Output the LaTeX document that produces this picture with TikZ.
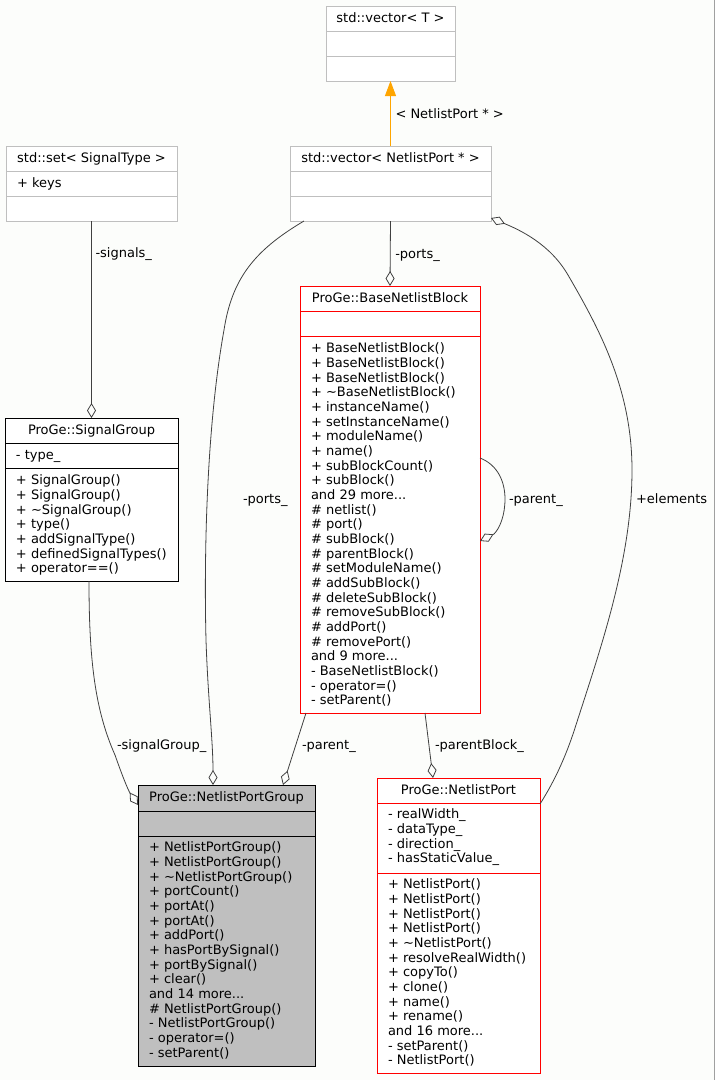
\documentclass[tikz,border=0pt]{standalone}
\usepackage{fontspec}
\setmainfont{DejaVu Sans}
\usepackage{tikz}
\usetikzlibrary{arrows.meta,positioning}

\definecolor{edgegray}{RGB}{64,64,64}
\definecolor{lightframe}{RGB}{191,191,191}
\definecolor{redframe}{RGB}{255,0,0}
\definecolor{curfill}{RGB}{191,191,191}
\definecolor{inhorange}{RGB}{255,165,0}
\definecolor{paper}{RGB}{252,253,251}
\definecolor{edgeline}{RGB}{160,160,160}

\newcommand{\andmore}[1]{and #1 more...}
\newcommand{\umlclass}[9]{%
  \node[box, draw=#8, fill=#9, minimum width=#4pt, minimum height=#5pt] (#1) at (#2,#3) {};
  \draw[draw=#8, line width=0.9pt] (#2,#6) -- ++(#4,0) (#2,#7) -- ++(#4,0);
}
\newcommand{\members}[4]{%
  \foreach \m [count=\i] in {#4}
    \node[member] (#1-\i) at (#2,{#3+14.67*(\i-1)}) {\m};
}

\begin{document}
\begin{tikzpicture}[x=1pt, y=-1pt,
    every node/.style={inner sep=0pt, outer sep=0pt, font=\fontsize{13}{15}\selectfont},
    box/.style={anchor=north west, line width=0.9pt},
    title/.style={anchor=base},
    member/.style={anchor=base west},
    lbl/.style={anchor=west, text height=9.5pt, text depth=0.5pt},
    aggr/.style={draw=edgegray, line width=0.8pt, -{Diamond[open, length=15pt, width=9pt]}},
    inherit/.style={draw=inhorange, line width=0.9pt, -{Triangle[length=15pt, width=11pt]}}
  ]
  \fill[paper] (0,0) rectangle (715,1080);
  \useasboundingbox (0,0) rectangle (715,1080);
  \draw[edgeline, line width=1pt] (714.5,0) -- (714.5,1080);

  % classes
  \umlclass{vt}{326}{6}{129}{75}{31}{56}{lightframe}{white}
  \node[title] (vt-title) at (390.5,22) {std::vector< T >};

  \umlclass{vnp}{290}{146}{201}{75}{171}{196}{lightframe}{white}
  \node[title] (vnp-title) at (390.5,162) {std::vector< NetlistPort * >};

  \umlclass{sst}{6}{146}{171}{75}{171}{196}{lightframe}{white}
  \node[title] (sst-title) at (91.5,162) {std::set< SignalType >};
  \members{sst-a}{17}{187.5}{+ keys}

  \umlclass{bnb}{300}{286}{180}{427}{311}{336}{redframe}{white}
  \node[title] (bnb-title) at (390,302) {ProGe::BaseNetlistBlock};
  \members{bnb-m}{311}{352.7}{+ BaseNetlistBlock(), + BaseNetlistBlock(), + BaseNetlistBlock(),
    + \textasciitilde{}BaseNetlistBlock(), + instanceName(), + setInstanceName(), + moduleName(),
    + name(), + subBlockCount(), + subBlock(), \andmore{29}, \# netlist(), \# port(),
    \# subBlock(), \# parentBlock(), \# setModuleName(), \# addSubBlock(), \# deleteSubBlock(),
    \# removeSubBlock(), \# addPort(), \# removePort(), \andmore{9}, - BaseNetlistBlock(),
    - operator=(), - setParent()}

  \umlclass{sg}{5}{418}{173}{163}{443}{468}{black}{white}
  \node[title] (sg-title) at (91.5,434.5) {ProGe::SignalGroup};
  \members{sg-a}{16}{459.7}{- type\_}
  \members{sg-m}{16}{484.7}{+ SignalGroup(), + SignalGroup(), + \textasciitilde{}SignalGroup(),
    + type(), + addSignalType(), + definedSignalTypes(), + operator==()}

  \umlclass{npg}{138}{785}{177}{281}{811}{836}{black}{curfill}
  \node[title] (npg-title) at (226.5,801.5) {ProGe::NetlistPortGroup};
  \members{npg-m}{149}{851.7}{+ NetlistPortGroup(), + NetlistPortGroup(),
    + \textasciitilde{}NetlistPortGroup(), + portCount(), + portAt(), + portAt(), + addPort(),
    + hasPortBySignal(), + portBySignal(), + clear(), \andmore{14}, \# NetlistPortGroup(),
    - NetlistPortGroup(), - operator=(), - setParent()}

  \umlclass{np}{377}{778}{163}{295}{803}{873}{redframe}{white}
  \node[title] (np-title) at (458.5,794) {ProGe::NetlistPort};
  \members{np-a}{388}{818.7}{- realWidth\_, - dataType\_, - direction\_, - hasStaticValue\_}
  \members{np-m}{388}{888.7}{+ NetlistPort(), + NetlistPort(), + NetlistPort(), + NetlistPort(),
    + \textasciitilde{}NetlistPort(), + resolveRealWidth(), + copyTo(), + clone(), + name(),
    + rename(), \andmore{16}, - setParent(), - NetlistPort()}

  % relations
  \draw[inherit] (vnp.north) -- (vt.south) node[lbl, midway, right=5pt] (lbl-tmpl) {< NetlistPort * >};
  \draw[aggr] (sst.south) -- (sg.north) node[lbl, pos=0.16, right=4pt] (lbl-signals) {-signals\_};
  \draw[aggr] (vnp.south) -- (bnb.north) node[lbl, midway, right=5pt] (lbl-ports1) {-ports\_};
  \draw[aggr] ([xshift=14pt]vnp.south west) .. controls (255,250) and (232,278) .. (224,330)
    .. controls (206,430) and (204,560) .. (206,640) .. controls (208,700) and (213,740) .. ([xshift=75pt]npg.north west);
  \node[lbl] (lbl-ports2) at (243,499) {-ports\_};
  \draw[aggr] ([yshift=-26pt]np.north east) .. controls (552,785) and (564,762) .. (575,728)
    .. controls (600,650) and (632,560) .. (632,470) .. controls (632,390) and (600,330) .. (568,275)
    .. controls (550,244) and (520,230) .. ([yshift=3pt]vnp.south east);
  \node[lbl] (lbl-elements) at (636,499) {+elements};
  \draw[aggr] ([xshift=84pt]sg.south west) .. controls (89,660) and (95,710) .. (115,755)
    .. controls (122,775) and (128,790) .. ([yshift=-20pt]npg.north west);
  \node[lbl] (lbl-siggroup) at (117,745) {-signalGroup\_};
  \draw[aggr] ([xshift=6pt]bnb.south west) -- ([xshift=145pt]npg.north west);
  \node[lbl] (lbl-parent2) at (302,745) {-parent\_};
  \draw[aggr] ([xshift=125pt]bnb.south west) -- ([xshift=56pt]np.north west);
  \node[lbl] (lbl-pblock) at (435,745) {-parentBlock\_};
  \draw[aggr] ([yshift=-172pt]bnb.north east) .. controls (498,465) and (505,482) .. (505,499)
    .. controls (505,515) and (500,528) .. (494,534) -- ([yshift=-255pt]bnb.north east);
  \node[lbl] (lbl-parent1) at (509,499) {-parent\_};
\end{tikzpicture}
\end{document}
